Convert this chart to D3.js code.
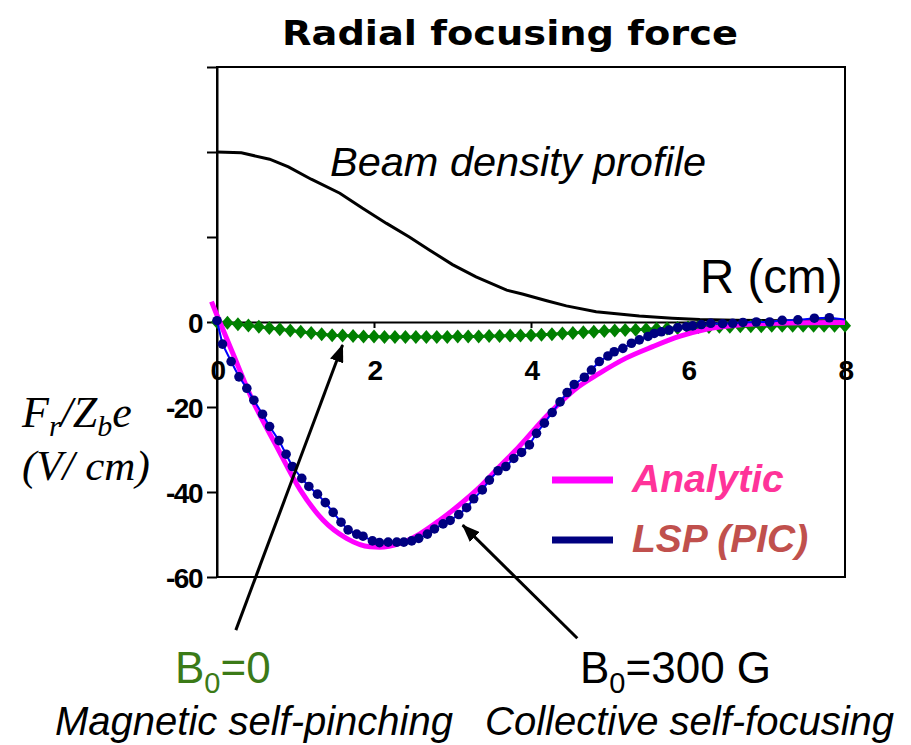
<!DOCTYPE html>
<html>
<head>
<meta charset="utf-8">
<script src="https://cdn.jsdelivr.net/npm/d3@7"></script>
<style>
  body { margin: 0; background: #fff; }
  svg { display: block; }
  .ytick text, .xtick text { font-family: "Liberation Sans", Arial, sans-serif; font-weight: bold; font-size: 28px; letter-spacing: -1.5px; }
</style>
</head>
<body>
<svg width="911" height="745"></svg>
<script>
// beam density profile (arbitrary units, drawn on the same axis)
const densityR = [0, 0.31, 0.67, 0.91, 1.2, 1.565, 1.85, 2.16, 2.45, 2.71, 3.0, 3.3, 3.69, 3.89, 4.2, 4.45, 4.83, 5.38, 5.8, 6.15, 6.6, 7.2, 8.0];
const densityV = [40, 39.8, 38.3, 36.5, 33.6, 30.3, 26.8, 23.2, 20, 16.9, 13.5, 10.6, 7.5, 6.6, 5.0, 3.8, 2.4, 1.4, 0.9, 0.6, 0.4, 0.3, 0.3];

// analytic force (magenta)
const analyticR = [-0.07, 0, 0.2, 0.46, 0.76, 1.06, 1.35, 1.65, 1.95, 2.07, 2.33, 2.58, 2.84, 3.09, 3.35, 3.6, 3.85, 4.19, 4.37, 4.55, 4.87, 5.21, 5.55, 5.89, 6.23, 6.65, 7.08, 7.5, 8.0];
const analyticV = [4.8, 1.6, -7.3, -18.7, -29.3, -39.5, -46.6, -50.9, -52.9, -53, -52.1, -49.9, -46.6, -43, -38.8, -34, -29.3, -22.3, -19, -16, -12.1, -8.5, -5.8, -3.4, -1.7, -0.7, -0.3, -0.15, -0.1];

// LSP (PIC) with B0 = 300 G (navy dots)
const lspR = [0, 0.07, 0.18, 0.28, 0.38, 0.47, 0.58, 0.67, 0.79, 0.88, 0.96, 1.08, 1.17, 1.28, 1.38, 1.48, 1.58, 1.67, 1.78, 1.86, 1.98, 2.07, 2.18, 2.29, 2.38, 2.48, 2.57, 2.68, 2.77, 2.88, 2.97, 3.08, 3.18, 3.27, 3.38, 3.47, 3.58, 3.68, 3.78, 3.88, 3.98, 4.07, 4.17, 4.27, 4.37, 4.46, 4.55, 4.68, 4.77, 4.87, 4.98, 5.06, 5.17, 5.28, 5.38, 5.49, 5.57, 5.66, 5.76, 5.87, 5.98, 6.06, 6.17, 6.29, 6.44, 6.57, 6.7, 6.87, 7.04, 7.2, 7.4, 7.61, 7.8];
const lspV = [0.3, -5.2, -9.3, -12.9, -15.6, -18.4, -21.7, -24.6, -27.9, -31.1, -34, -36.8, -38.7, -40.5, -42.5, -44.8, -47.1, -48.9, -49.9, -50.4, -51.5, -51.9, -51.8, -51.8, -51.8, -51.5, -50.9, -49.9, -48.7, -47.5, -46.7, -45.3, -43.7, -41.6, -39.5, -37.2, -35, -34, -32.1, -30.7, -28.9, -26.2, -23.8, -21.3, -18.8, -16.6, -14.7, -13, -11.3, -9.3, -8, -7, -6.2, -5, -4.2, -3.4, -2.7, -2.3, -1.9, -1.3, -1.1, -0.9, -0.6, -0.3, -0.4, -0.3, -0.1, 0, 0, 0.4, 0.5, 0.9, 1.0];
const lspEnd = [8.0, 0.6];

// B0 = 0 run (green diamonds), sampled every 2/15 cm from 0 to 8
const b0V = [0, -0.2, -0.5, -0.8, -1.1, -1.4, -1.7, -2.0, -2.3, -2.6, -2.9, -3.1, -3.2, -3.3, -3.4, -3.4, -3.5, -3.5, -3.5, -3.5, -3.5, -3.5, -3.5, -3.4, -3.4, -3.4, -3.3, -3.3, -3.2, -3.2, -3.1, -3.0, -2.9, -2.7, -2.6, -2.4, -2.3, -2.1, -2.0, -1.9, -1.8, -1.7, -1.6, -1.5, -1.4, -1.3, -1.2, -1.2, -1.1, -1.1, -1.0, -1.0, -1.0, -0.9, -0.9, -0.9, -0.9, -0.9, -0.9, -0.9, -0.9];
const b0R = b0V.map((v, i) => i * 8 / 60);

const xTicks = [0, 2, 4, 6, 8];
const yTicks = [-60, -40, -20, 0, 20, 40, 60];

const svg = d3.select("svg");
const x = d3.scaleLinear().domain([0, 8]).range([217, 845]);
const y = d3.scaleLinear().domain([-60, 60]).range([577, 67]);

// frame
svg.append("rect")
  .attr("x", x(0)).attr("y", y(60))
  .attr("width", x(8) - x(0)).attr("height", y(-60) - y(60))
  .attr("fill", "none").attr("stroke", "#000").attr("stroke-width", 2);

// y axis
const yAxis = svg.append("g")
  .attr("class", "ytick")
  .attr("transform", `translate(${x(0)},0)`)
  .call(d3.axisLeft(y).tickValues(yTicks).tickSize(10).tickSizeOuter(0).tickPadding(5)
    .tickFormat(d => d <= 0 ? String(d) : ""));
yAxis.select(".domain").attr("stroke-width", 2);
yAxis.selectAll(".tick line").attr("stroke-width", 2);
yAxis.selectAll(".tick text").attr("dy", "0.36em");

// x axis at zero
const xAxis = svg.append("g")
  .attr("class", "xtick")
  .attr("transform", `translate(0,${y(0)})`)
  .call(d3.axisBottom(x).tickValues(xTicks).tickSize(6).tickSizeOuter(0));
xAxis.select(".domain").attr("stroke-width", 2);
xAxis.selectAll(".tick line").attr("stroke-width", 2);
xAxis.selectAll(".tick text").attr("y", 58).attr("dy", 0);

const line = d3.line().x(d => x(d[0])).y(d => y(d[1]));

const plot = svg.append("g");

// density profile
plot.append("path")
  .datum(d3.zip(densityR, densityV))
  .attr("d", line)
  .attr("fill", "none").attr("stroke", "#000").attr("stroke-width", 3);

// B0 = 0 diamonds
const b0 = d3.zip(b0R, b0V);
plot.append("path")
  .datum(b0)
  .attr("d", line)
  .attr("fill", "none").attr("stroke", "#008000").attr("stroke-width", 3);
plot.selectAll("path.dia")
  .data(b0)
  .enter()
  .append("path")
  .attr("class", "dia")
  .attr("d", d => `M${x(d[0])},${y(d[1]) - 7}L${x(d[0]) + 6},${y(d[1])}L${x(d[0])},${y(d[1]) + 7}L${x(d[0]) - 6},${y(d[1])}Z`)
  .attr("fill", "#008000");

// analytic
plot.append("path")
  .datum(d3.zip(analyticR, analyticV))
  .attr("d", line.curve(d3.curveMonotoneX))
  .attr("fill", "none").attr("stroke", "#ff00ff").attr("stroke-width", 5);
line.curve(d3.curveLinear);

// LSP
const lsp = d3.zip(lspR, lspV);
plot.append("path")
  .datum(lsp.concat([lspEnd]))
  .attr("d", line)
  .attr("fill", "none").attr("stroke", "#0000ff").attr("stroke-width", 2);
plot.selectAll("circle")
  .data(lsp)
  .enter()
  .append("circle")
  .attr("cx", d => x(d[0]))
  .attr("cy", d => y(d[1]))
  .attr("r", 4.8)
  .attr("fill", "#000080");

// title
svg.append("text")
  .attr("x", 510).attr("y", 45)
  .attr("text-anchor", "middle")
  .attr("font-family", "'DejaVu Sans', sans-serif")
  .attr("font-weight", "bold")
  .attr("font-size", 33)
  .attr("textLength", 456).attr("lengthAdjust", "spacingAndGlyphs")
  .text("Radial focusing force");

svg.append("text")
  .attr("x", 330).attr("y", 176)
  .attr("font-family", "'Liberation Sans', Arial, sans-serif")
  .attr("font-style", "italic")
  .attr("font-size", 41.5)
  .text("Beam density profile");

svg.append("text")
  .attr("x", 700).attr("y", 293)
  .attr("font-family", "'Liberation Sans', Arial, sans-serif")
  .attr("font-size", 47.5)
  .text("R (cm)");

// y label
const yl = svg.append("text")
  .attr("x", 22).attr("y", 427)
  .attr("font-family", "'Liberation Serif', 'Times New Roman', serif")
  .attr("font-style", "italic")
  .attr("font-size", 44);
yl.append("tspan").text("F");
yl.append("tspan").attr("font-size", 30).attr("dy", 9).text("r");
yl.append("tspan").attr("dy", -9).text("/Z");
yl.append("tspan").attr("font-size", 30).attr("dy", 9).text("b");
yl.append("tspan").attr("dy", -9).text("e");
svg.append("text")
  .attr("x", 22).attr("y", 480)
  .attr("font-family", "'Liberation Serif', 'Times New Roman', serif")
  .attr("font-style", "italic")
  .attr("font-size", 43)
  .text("(V/ cm)");

// legend
const legend = [
  { name: "Analytic", stroke: "#ff00ff", color: "#ff3399", y: 480 },
  { name: "LSP (PIC)", stroke: "#000080", color: "#c0504d", y: 540 }
];
const lg = svg.selectAll("g.leg").data(legend).enter().append("g").attr("class", "leg");
lg.append("line")
  .attr("x1", 552).attr("x2", 613)
  .attr("y1", d => d.y).attr("y2", d => d.y)
  .attr("stroke", d => d.stroke).attr("stroke-width", 7);
lg.append("text")
  .attr("x", 632).attr("y", d => d.y + 12)
  .attr("font-family", "'Liberation Sans', Arial, sans-serif")
  .attr("font-weight", "bold").attr("font-style", "italic")
  .attr("font-size", 39)
  .attr("fill", d => d.color)
  .text(d => d.name);

// arrows
svg.append("defs").append("marker")
  .attr("id", "head").attr("markerUnits", "userSpaceOnUse")
  .attr("viewBox", "0 -7 18 14").attr("refX", 17).attr("refY", 0)
  .attr("markerWidth", 18).attr("markerHeight", 14).attr("orient", "auto")
  .append("path").attr("d", "M0,-7L18,0L0,7Z").attr("fill", "#000");

const arrows = [
  { from: [0.24, -72.5], to: [1.6, -5.4] },
  { from: [4.59, -74.4], to: [3.13, -47.8] }
];
svg.selectAll("line.arrow").data(arrows).enter().append("line")
  .attr("class", "arrow")
  .attr("x1", d => x(d.from[0])).attr("y1", d => y(d.from[1]))
  .attr("x2", d => x(d.to[0])).attr("y2", d => y(d.to[1]))
  .attr("stroke", "#000").attr("stroke-width", 3)
  .attr("marker-end", "url(#head)");

// annotations
const b0a = svg.append("text")
  .attr("x", 175).attr("y", 683)
  .attr("font-family", "'Liberation Sans', Arial, sans-serif")
  .attr("font-size", 44).attr("fill", "#3b7a17");
b0a.append("tspan").text("B");
b0a.append("tspan").attr("font-size", 29).attr("dy", 10).text("0");
b0a.append("tspan").attr("dy", -10).text("=0");

const b0b = svg.append("text")
  .attr("x", 580).attr("y", 683)
  .attr("font-family", "'Liberation Sans', Arial, sans-serif")
  .attr("font-size", 44).attr("fill", "#000");
b0b.append("tspan").text("B");
b0b.append("tspan").attr("font-size", 29).attr("dy", 10).text("0");
b0b.append("tspan").attr("dy", -10).text("=300 G");

svg.append("text")
  .attr("x", 55).attr("y", 735)
  .attr("font-family", "'Liberation Sans', Arial, sans-serif")
  .attr("font-style", "italic").attr("font-size", 40)
  .text("Magnetic self-pinching");
svg.append("text")
  .attr("x", 485).attr("y", 735)
  .attr("font-family", "'Liberation Sans', Arial, sans-serif")
  .attr("font-style", "italic").attr("font-size", 40)
  .text("Collective self-focusing");
</script>
</body>
</html>
